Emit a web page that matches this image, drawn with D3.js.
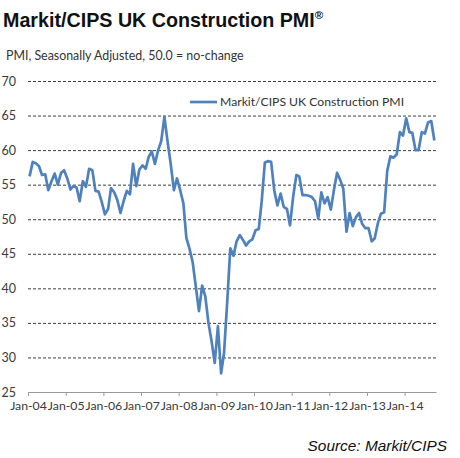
<!DOCTYPE html>
<html>
<head>
<meta charset="utf-8">
<script src="https://cdn.jsdelivr.net/npm/d3@7"></script>
<style>
  body { margin: 0; background: #fff; }
  svg { display: block; }
  .axis text { font-family: Lato, "Open Sans", sans-serif; fill: #3a3a3a; }
</style>
</head>
<body>
<svg id="chart" width="460" height="458"></svg>
<script>
// Markit/CIPS UK Construction PMI, monthly, Jan-04 .. Oct-14
var pmi = [
  56.2, 58.3, 58.1, 57.7, 56.4, 56.5, 54.2, 55.5, 56.6, 55.0, 56.7, 57.1, // 2004
  55.9, 54.3, 54.8, 54.6, 52.6, 55.5, 54.7, 57.3, 57.1, 54.1, 54.0, 52.5, // 2005
  50.7, 51.5, 54.5, 53.9, 52.8, 50.9, 52.6, 54.1, 53.6, 58.0, 54.8, 57.2, // 2006
  57.8, 57.3, 59.0, 59.8, 58.0, 60.0, 61.3, 64.8, 61.2, 58.0, 54.2, 55.9, // 2007
  54.2, 52.3, 47.3, 45.7, 43.8, 40.2, 36.7, 40.4, 38.8, 35.0, 32.3, 29.2, // 2008
  34.5, 27.7, 30.6, 38.0, 45.8, 44.7, 46.8, 47.7, 47.0, 46.2, 46.8, 47.1, // 2009
  48.4, 48.6, 52.5, 58.2, 58.4, 58.3, 54.2, 52.0, 53.7, 51.8, 51.5, 49.1, // 2010
  53.3, 56.4, 56.2, 53.5, 53.5, 53.4, 53.2, 52.6, 50.1, 53.9, 52.3, 53.2, // 2011
  51.4, 54.3, 56.7, 55.7, 54.4, 48.2, 50.9, 49.0, 50.3, 50.9, 49.3, 48.7, // 2012
  48.7, 46.8, 47.2, 49.4, 50.8, 51.0, 57.0, 59.1, 58.9, 59.4, 62.6, 62.1, // 2013
  64.6, 62.6, 62.5, 60.0, 60.0, 62.6, 62.4, 64.0, 64.2, 61.4              // 2014
];
var startMonth = new Date(2004, 0, 1);
var endMonth = new Date(2014, 10, 1);
var yTicks = [25, 30, 35, 40, 45, 50, 55, 60, 65, 70];
var xTicks = [2004, 2005, 2006, 2007, 2008, 2009, 2010, 2011, 2012, 2013, 2014];
var seriesName = "Markit/CIPS UK Construction PMI";

var svg = d3.select("#chart");
var plotLeft = 28, plotRight = 436, plotTop = 81, plotBottom = 392;

var x = d3.scaleTime().domain([startMonth, endMonth]).range([plotLeft, plotRight]);
var y = d3.scaleLinear().domain([25, 70]).range([plotBottom, plotTop]);

// mid-month position for each point
var data = pmi.map(function(v, i) {
  return { date: new Date(2004, i, 16), value: v };
});

// title
var title = svg.append("text")
  .attr("x", 3).attr("y", 27)
  .style("font-family", "'Liberation Sans', Arial, sans-serif")
  .style("font-weight", "bold")
  .style("font-size", "19.7px")
  .style("fill", "#111")
  .text("Markit/CIPS UK Construction PMI");
title.append("tspan")
  .attr("dy", -8)
  .style("font-size", "11.5px")
  .text("®");

svg.append("text")
  .attr("x", 6).attr("y", 60)
  .style("font-family", "Lato, sans-serif")
  .style("font-size", "12.4px")
  .style("fill", "#333")
  .text("PMI, Seasonally Adjusted, 50.0 = no-change");

// dashed gridlines
svg.append("g")
  .attr("transform", "translate(" + plotLeft + ",0)")
  .call(d3.axisLeft(y).tickValues(yTicks.slice(1)).tickSize(-(plotRight - plotLeft)).tickFormat(""))
  .call(function(g) { g.select(".domain").remove(); })
  .selectAll("line")
  .attr("stroke", "#3c3c3c")
  .attr("stroke-dasharray", "3,2");

// y labels
svg.append("g")
  .attr("class", "axis")
  .attr("transform", "translate(" + plotLeft + ",0)")
  .call(d3.axisLeft(y).tickValues(yTicks).tickSize(0).tickPadding(12))
  .call(function(g) { g.select(".domain").remove(); })
  .selectAll("text")
  .style("font-size", "12.5px");

// x axis
var xAxis = svg.append("g")
  .attr("class", "axis")
  .attr("transform", "translate(0," + plotBottom + ")")
  .call(d3.axisBottom(x)
    .tickValues(xTicks.map(function(yr) { return new Date(yr, 0, 1); }))
    .tickFormat(d3.timeFormat("%b-%y"))
    .tickSize(4).tickSizeOuter(0).tickPadding(5));
xAxis.select(".domain").attr("stroke", "#9a9a9a");
xAxis.selectAll(".tick line").attr("stroke", "#9a9a9a");
xAxis.selectAll("text").style("font-size", "12.3px");

// series line
var line = d3.line()
  .x(function(d) { return x(d.date); })
  .y(function(d) { return y(d.value); });

svg.append("path")
  .datum(data)
  .attr("d", line)
  .attr("fill", "none")
  .attr("stroke", "#4F81BD")
  .attr("stroke-width", 2.7)
  .attr("stroke-linejoin", "round");

// legend
svg.append("line")
  .attr("x1", 190).attr("x2", 217)
  .attr("y1", 102).attr("y2", 102)
  .attr("stroke", "#4F81BD")
  .attr("stroke-width", 2.7);
svg.append("text")
  .attr("x", 220).attr("y", 102).attr("dy", "0.35em")
  .style("font-family", "Lato, sans-serif")
  .style("font-size", "12.2px")
  .style("fill", "#333")
  .text(seriesName);

// source
svg.append("text")
  .attr("x", 447).attr("y", 451)
  .attr("text-anchor", "end")
  .style("font-family", "'Liberation Sans', Arial, sans-serif")
  .style("font-style", "italic")
  .style("font-size", "15.4px")
  .style("fill", "#111")
  .text("Source: Markit/CIPS");
</script>
</body>
</html>
